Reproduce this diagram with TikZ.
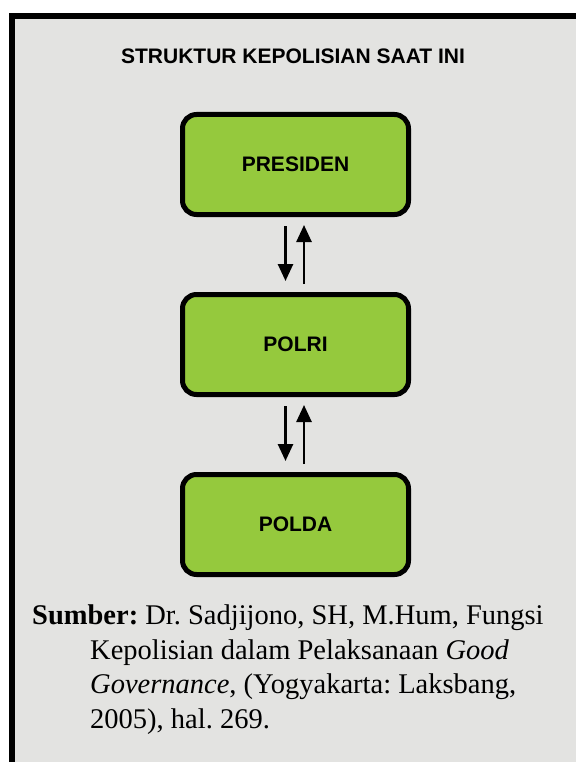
\documentclass[tikz,border=0pt]{standalone}
\usepackage{fontspec}
\setmainfont{Liberation Serif}
\setsansfont{Liberation Sans}
\usetikzlibrary{positioning,arrows.meta}
\frenchspacing

\definecolor{latar}{HTML}{E3E3E1}
\definecolor{hijau}{HTML}{95C93D}

\tikzset{
  kotak/.style={rectangle, draw=black, fill=hijau, line width=5pt, rounded corners=14pt,
    minimum width=226pt, minimum height=100pt,
    font=\sffamily\bfseries\fontsize{21}{25}\selectfont},
  panah/.style={line width=2.6pt, -{Triangle[length=17pt,width=15pt]}}
}

\begin{document}
\begin{tikzpicture}[x=1pt,y=-1pt]
\useasboundingbox (0,0) rectangle (576,762);
% bingkai
\fill[black] (9,13) rectangle (576,762);
\fill[latar] (14.5,19) rectangle (576,762);

\node[anchor=base, font=\sffamily\bfseries\fontsize{21}{25}\selectfont] (judul) at (293,64) {STRUKTUR KEPOLISIAN SAAT INI};

% struktur
\node[kotak] (presiden) at (295.5,164.5) {PRESIDEN};
\node[kotak, below=75pt of presiden] (polri) {POLRI};
\node[kotak, below=75pt of polri] (polda) {POLDA};

\draw[panah] ([xshift=-10pt,yshift=-9pt]presiden.south) -- ([xshift=-10pt,yshift=11pt]polri.north);
\draw[panah] ([xshift=8.5pt,yshift=8pt]polri.north) -- ([xshift=8.5pt,yshift=-8pt]presiden.south);
\draw[panah] ([xshift=-10pt,yshift=-9pt]polri.south) -- ([xshift=-10pt,yshift=11pt]polda.north);
\draw[panah] ([xshift=8.5pt,yshift=8pt]polda.north) -- ([xshift=8.5pt,yshift=-8pt]polri.south);

% sumber
\node[anchor=base west, align=left, inner sep=0pt, font=\fontsize{28.5}{34.5}\selectfont] (sumber) at (32,728)
  {\textbf{Sumber:} Dr. Sadjijono, SH, M.Hum, Fungsi\\
   \hspace*{58pt}Kepolisian dalam Pelaksanaan \textit{Good}\\
   \hspace*{58pt}\textit{Governance}, (Yogyakarta: Laksbang,\\
   \hspace*{58pt}2005), hal. 269.};
\end{tikzpicture}
\end{document}
